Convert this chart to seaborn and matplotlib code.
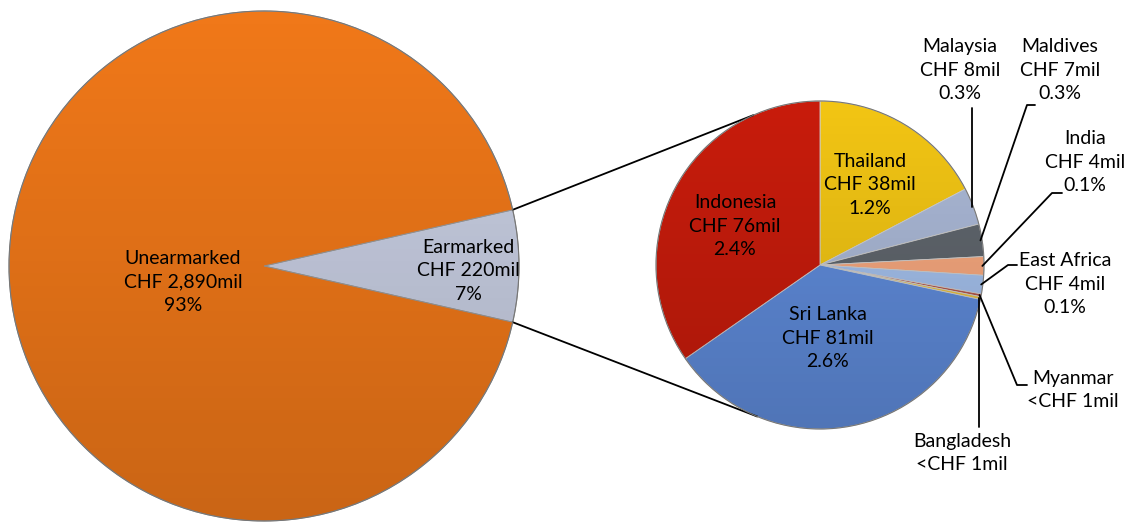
import numpy as np
import matplotlib
matplotlib.use("Agg")
import matplotlib.pyplot as plt
from matplotlib.patches import Circle
import seaborn as sns

# main split
main_labels = ["Earmarked", "Unearmarked"]
main_values = [220, 2890]
main_texts = ["Earmarked\nCHF 220mil\n7%", "Unearmarked\nCHF 2,890mil\n93%"]
main_colors = ["#C8CEE2", "#F07819"]

# earmarked breakdown (CHF mil), clockwise from 12 o'clock
sub_labels = ["Thailand", "Malaysia", "Maldives", "India", "East Africa",
              "Myanmar", "Bangladesh", "Sri Lanka", "Indonesia"]
sub_values = [38, 8, 7, 4, 4, 0.6, 0.6, 81, 76]
sub_texts = ["Thailand\nCHF 38mil\n1.2%", "Malaysia\nCHF 8mil\n0.3%",
             "Maldives\nCHF 7mil\n0.3%", "India\nCHF 4mil\n0.1%",
             "East Africa\nCHF 4mil\n0.1%", "Myanmar\n<CHF 1mil",
             "Bangladesh\n<CHF 1mil", "Sri Lanka\nCHF 81mil\n2.6%",
             "Indonesia\nCHF 76mil\n2.4%"]
sub_colors = ["#F2C514", "#AAB8D6", "#60666D", "#F7A87E", "#A4C0EC",
              "#B5574B", "#E8C040", "#5F8BDA", "#C81C0C"]

sns.set_theme(style="white")
plt.rcParams['font.family'] = ['Lato', 'DejaVu Sans']

W, H = 1127, 526
fig = plt.figure(figsize=(W / 100, H / 100), dpi=100)
ax = fig.add_axes([0, 0, 1, 1])

# pixel layout (y measured from bottom)
c1, r1 = (264, 526 - 266), 255
c2, r2 = (820, 526 - 265), 164

ear_angle = main_values[0] / sum(main_values) * 360
w1, _ = ax.pie(main_values, colors=main_colors, center=c1, radius=r1,
               startangle=-ear_angle / 2, counterclock=True, frame=True,
               wedgeprops=dict(edgecolor="#9A9A9A", linewidth=0.7))
w2, _ = ax.pie(sub_values, colors=sub_colors, center=c2, radius=r2,
               startangle=90, counterclock=False, frame=True,
               wedgeprops=dict(edgecolor="#D0D0D0", linewidth=0.6))
ax.set_xlim(0, W)
ax.set_ylim(0, H)
ax.set_aspect("equal")
ax.axis("off")

# soft top-to-bottom shading, like the bevelled office pie
grad = np.zeros((256, 2, 4))
grad[..., 3] = np.linspace(0.0, 0.16, 256)[:, None]
for c, r in [(c1, r1), (c2, r2)]:
    im = ax.imshow(grad, extent=(c[0] - r, c[0] + r, c[1] - r, c[1] + r),
                   origin="upper", aspect="auto", zorder=3, interpolation="bilinear")
    clip = Circle(c, r, transform=ax.transData)
    im.set_clip_path(clip)
    ax.add_patch(Circle(c, r, fill=False, edgecolor="#777777", lw=0.8, zorder=3))
ax.set_xlim(0, W)
ax.set_ylim(0, H)

fs = 14
tkw = dict(ha="center", va="center", fontsize=fs, color="black",
           linespacing=1.45, zorder=5)


def pt(c, r, ang):
    a = np.deg2rad(ang)
    return c[0] + r * np.cos(a), c[1] + r * np.sin(a)


# connector lines between the two pies
e = w1[0]
for a1, a2 in [(e.theta2, 114), (e.theta1, 247.5)]:
    x0, y0 = pt(c1, r1, a1)
    x1, y1 = pt(c2, r2, a2)
    ax.plot([x0, x1], [y0, y1], color="black", lw=1.3)

# labels on the left pie
ax.text(183, 526 - 282, main_texts[1], **tkw)
ax.text(468, 526 - 271, main_texts[0], **tkw)

# labels inside the big slices
inside = {"Thailand": (870, 185), "Indonesia": (735, 226), "Sri Lanka": (828, 338)}
for name, (x, y) in inside.items():
    i = sub_labels.index(name)
    ax.text(x, 526 - y, sub_texts[i], **tkw)

# small slices: text position, leader path (elbow points)
outside = {
    "Malaysia": ((960, 70), [(971, 108)]),
    "Maldives": ((1060, 70), [(1035, 105), (1027, 105)]),
    "India": ((1085, 162), [(1062, 193), (1052, 193)]),
    "East Africa": ((1065, 284), [(1017, 265), (1008, 265)]),
    "Myanmar": ((1073, 390), [(1027, 385), (1017, 385)]),
    "Bangladesh": ((962, 453), [(979, 427)]),
}
for name, ((tx, ty), elbows) in outside.items():
    i = sub_labels.index(name)
    w = w2[i]
    mid = (w.theta1 + w.theta2) / 2
    sx, sy = pt(c2, r2 * 0.99, mid)
    xs = [p[0] for p in elbows] + [sx]
    ys = [526 - p[1] for p in elbows] + [sy]
    if name == "Bangladesh":
        xs[-1] = xs[0]
    if name == "Malaysia":
        xs[0] = sx
    ax.plot(xs, ys, color="black", lw=1.3, zorder=4)
    ax.text(tx, 526 - ty, sub_texts[i], **tkw)

fig.savefig("out.png", dpi=100, facecolor="white")
